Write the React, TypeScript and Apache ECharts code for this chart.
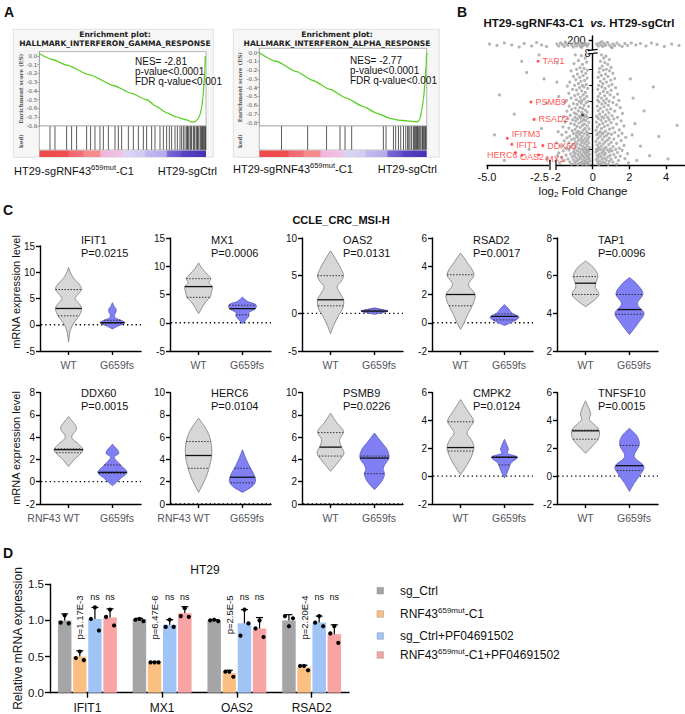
import React, { useEffect, useRef } from "react";
import * as echarts from "echarts";

const FONT = '"Liberation Sans", Arial, Helvetica, sans-serif';
const DJ = '"DejaVu Sans", Verdana, sans-serif';

// ---------------- Panel A (GSEA) ----------------
const gseaTitles = ["HALLMARK_INTERFERON_GAMMA_RESPONSE", "HALLMARK_INTERFERON_ALPHA_RESPONSE"];
const gammaStats = ["NES= -2.81", "p-value<0.0001", "FDR q-value<0.001"];
const alphaStats = ["NES= -2.77", "p-value<0.0001", "FDR q-value<0.001"];
const gammaCurve = [[0, 0.025], [8, -0.04], [16.6, -0.105], [30, -0.215], [45, -0.34], [55, -0.425], [64.5, -0.5], [70, -0.575], [76.5, -0.65], [82, -0.695], [88.4, -0.73], [91.4, -0.755], [93.5, -0.75], [95.2, -0.72], [96.4, -0.67], [97.4, -0.59], [98.2, -0.47], [98.8, -0.32], [99.3, -0.16], [99.6, 0.0]];
const alphaCurve = [[0, 0], [10, -0.098], [22.3, -0.217], [32, -0.318], [42.3, -0.42], [52, -0.52], [62.2, -0.617], [70, -0.69], [78.1, -0.75], [83, -0.77], [88.1, -0.78], [94.1, -0.79], [95.3, -0.78], [96, -0.75], [97, -0.66], [98, -0.54], [99, -0.35], [99.6, -0.15], [100, 0]];
const gammaHits = [6.4, 9.4, 16.4, 19.4, 22.4, 28.4, 30.8, 33.4, 36.4, 38.4, 41.4, 45.4, 47.4, 49.4, 53.4, 56.4, 59.4, 62.4, 64.4, 67.4, 69.4, 72.4, 74.4, 76.4, 78, 79.4, 81.4, 82.8, 84.4, 85.4, 86.4, 87.4, 88.4, 88.9, 89.4, 90.4, 90.9, 91.4, 92.4, 92.9, 93.4, 94.4, 94.9, 95.4, 96.4, 96.9, 97.4, 97.9, 98.4, 98.9, 99.4, 99.8];
const alphaHits = [13.3, 28.9, 40.2, 48.2, 51.2, 55.2, 74.1, 75.7, 80.1, 81.5, 83.1, 84.5, 86.1, 87.5, 88.6, 89.3, 90, 91, 92, 92.5, 93, 93.5, 94, 94.5, 95, 95.6, 96.4, 97.2, 97.6, 98, 98.8, 99.2, 99.6];
const esTicks = [0, -0.1, -0.2, -0.3, -0.4, -0.5, -0.6, -0.7, -0.8];
const gseaLeftLabel = "HT29-sgRNF43^{659mut}-C1";
const gseaRightLabel = "HT29-sgCtrl";

// ---------------- Panel B (volcano) ----------------
const volcanoLeftCloud = [
  [-0.95, 7.9], [-0.62, 7.85], [-0.41, 7.7], [-0.78, 7.55], [-0.33, 7.45], [-1.02, 7.35], [-0.55, 7.3], [-0.69, 7.1], [-0.47, 7.05], [-0.88, 7.0], [-0.29, 6.95],
  [-1.18, 6.9], [-0.6, 6.85], [-0.38, 6.75], [-0.83, 6.7], [-0.52, 6.6], [-1.05, 6.55], [-0.71, 6.5], [-0.3, 6.45], [-0.92, 6.35], [-0.44, 6.3], [-0.64, 6.25], [-1.25, 6.2], [-0.78, 6.1], [-0.35, 6.05], [-0.57, 6.0], [-0.99, 6.0],
  [-1.38, 5.95], [-0.48, 5.9], [-0.72, 5.85], [-0.27, 5.8], [-1.1, 5.75], [-0.88, 5.7], [-0.6, 5.65], [-0.4, 5.55], [-1.3, 5.5], [-0.8, 5.45], [-0.52, 5.4], [-0.98, 5.35], [-0.32, 5.3], [-0.67, 5.25], [-1.18, 5.2], [-0.45, 5.15], [-0.9, 5.1], [-0.58, 5.05], [-0.25, 5.0], [-1.42, 5.05], [-0.74, 5.0],
  [-1.52, 4.95], [-0.36, 4.92], [-0.63, 4.88], [-1.05, 4.85], [-0.85, 4.8], [-0.47, 4.75], [-1.28, 4.7], [-0.23, 4.68], [-0.7, 4.62], [-0.95, 4.58], [-0.55, 4.55], [-1.15, 4.5], [-0.4, 4.45], [-0.78, 4.4], [-1.4, 4.38], [-0.3, 4.33], [-0.6, 4.3], [-1.0, 4.27], [-0.88, 4.2], [-0.5, 4.18], [-1.22, 4.12], [-0.35, 4.1], [-0.72, 4.07], [-1.58, 4.05], [-0.44, 4.02], [-0.97, 4.0],
  [-0.26, 3.97], [-0.65, 3.95], [-1.35, 3.92], [-0.82, 3.9], [-0.5, 3.86], [-1.1, 3.84], [-0.38, 3.8], [-0.93, 3.77], [-0.6, 3.74], [-1.5, 3.7], [-0.22, 3.68], [-0.74, 3.65], [-1.2, 3.62], [-0.45, 3.58], [-1.0, 3.55], [-0.56, 3.5], [-0.3, 3.47], [-0.86, 3.44], [-1.62, 3.4], [-0.68, 3.37], [-1.3, 3.33], [-0.42, 3.3], [-0.2, 3.27], [-0.95, 3.24], [-0.52, 3.2], [-1.12, 3.16], [-0.78, 3.12], [-0.34, 3.1], [-1.45, 3.07], [-0.62, 3.05], [-0.88, 3.02], [-0.25, 3.0],
  [-1.05, 2.98], [-0.47, 2.96], [-0.72, 2.93], [-1.68, 2.9], [-0.3, 2.88], [-0.9, 2.86], [-1.25, 2.83], [-0.58, 2.8], [-0.2, 2.78], [-0.82, 2.75], [-1.4, 2.72], [-0.4, 2.7], [-1.0, 2.67], [-0.65, 2.65], [-0.26, 2.62], [-1.15, 2.6], [-0.52, 2.57], [-0.77, 2.54], [-1.55, 2.52], [-0.35, 2.5], [-0.95, 2.47], [-0.6, 2.44], [-1.3, 2.42], [-0.22, 2.4], [-0.44, 2.37], [-0.85, 2.34], [-1.08, 2.3], [-0.68, 2.28], [-0.3, 2.25], [-1.75, 2.22], [-0.55, 2.2], [-0.92, 2.17], [-1.2, 2.14], [-0.4, 2.12], [-0.18, 2.1], [-0.75, 2.07], [-1.45, 2.05], [-0.5, 2.03], [-1.0, 2.01], [-0.27, 2.0],
  [-0.62, 1.98], [-1.3, 1.96], [-0.36, 1.94], [-0.85, 1.92], [-1.6, 1.9], [-0.22, 1.88], [-0.5, 1.86], [-1.05, 1.84], [-0.72, 1.82], [-0.3, 1.8], [-1.85, 1.78], [-0.95, 1.76], [-0.42, 1.74], [-1.2, 1.72], [-0.6, 1.7], [-0.18, 1.68], [-0.8, 1.66], [-1.45, 1.64], [-0.35, 1.62], [-1.0, 1.6], [-0.55, 1.58], [-0.25, 1.56], [-0.7, 1.54], [-1.12, 1.52], [-1.7, 1.5], [-0.45, 1.48], [-0.9, 1.46], [-0.2, 1.44], [-0.65, 1.42], [-1.35, 1.4], [-0.32, 1.38], [-0.78, 1.36], [-1.05, 1.34], [-0.5, 1.32], [-1.55, 1.3], [-0.16, 1.28], [-0.88, 1.26], [-0.4, 1.24], [-1.25, 1.22], [-0.6, 1.2], [-0.28, 1.18], [-0.98, 1.16], [-0.72, 1.14], [-1.8, 1.12], [-0.45, 1.1], [-0.2, 1.08], [-1.15, 1.07], [-0.55, 1.06], [-0.82, 1.05], [-0.35, 1.04],
];
const volcanoRightCloud = [
  [0.48, 7.9], [0.72, 7.82], [0.6, 7.7], [0.9, 7.6], [0.42, 7.5], [0.66, 7.42], [0.82, 7.3], [0.52, 7.2], [1.0, 7.12], [0.38, 7.05], [0.74, 7.0],
  [0.58, 6.95], [0.92, 6.9], [0.35, 6.82], [1.1, 6.75], [0.7, 6.7], [0.47, 6.62], [0.83, 6.55], [0.3, 6.5], [1.2, 6.42], [0.62, 6.4], [0.98, 6.32], [0.42, 6.25], [0.75, 6.2], [0.55, 6.1], [1.05, 6.05], [0.33, 6.0],
  [0.88, 5.95], [0.5, 5.9], [1.25, 5.85], [0.68, 5.8], [0.28, 5.75], [1.0, 5.68], [0.58, 5.62], [0.8, 5.55], [0.4, 5.5], [1.35, 5.45], [0.95, 5.4], [0.65, 5.35], [0.3, 5.3], [1.15, 5.25], [0.48, 5.2], [0.76, 5.15], [0.26, 5.08], [1.42, 5.05], [0.6, 5.02], [0.9, 5.0],
  [0.35, 4.96], [1.1, 4.92], [0.7, 4.88], [0.5, 4.82], [1.3, 4.78], [0.85, 4.74], [0.25, 4.7], [0.62, 4.65], [1.5, 4.6], [0.42, 4.56], [0.98, 4.52], [0.78, 4.46], [0.3, 4.42], [1.2, 4.38], [0.55, 4.34], [0.88, 4.28], [1.62, 4.24], [0.38, 4.2], [0.7, 4.15], [1.05, 4.1], [0.22, 4.07], [0.5, 4.03], [1.35, 4.0], [0.82, 4.0],
  [0.6, 3.97], [0.3, 3.94], [1.15, 3.9], [0.9, 3.86], [0.45, 3.82], [1.55, 3.78], [0.72, 3.74], [0.2, 3.7], [1.0, 3.66], [0.55, 3.62], [1.3, 3.58], [0.36, 3.54], [0.82, 3.5], [1.7, 3.46], [0.64, 3.42], [0.25, 3.38], [1.1, 3.34], [0.48, 3.3], [0.92, 3.26], [1.45, 3.22], [0.18, 3.18], [0.7, 3.14], [0.4, 3.1], [1.2, 3.06], [0.58, 3.03], [0.85, 3.0], [1.6, 3.0], [0.3, 3.0],
  [0.5, 2.97], [1.02, 2.94], [0.22, 2.9], [0.75, 2.87], [1.4, 2.84], [0.4, 2.8], [0.62, 2.77], [1.8, 2.74], [0.9, 2.7], [0.28, 2.67], [1.15, 2.64], [0.52, 2.6], [0.8, 2.57], [1.55, 2.54], [0.18, 2.5], [0.68, 2.47], [1.0, 2.44], [0.38, 2.4], [1.3, 2.37], [0.58, 2.34], [0.88, 2.3], [0.25, 2.27], [1.7, 2.24], [0.46, 2.2], [1.1, 2.17], [0.72, 2.14], [0.32, 2.1], [1.45, 2.07], [0.6, 2.04], [0.95, 2.02], [0.2, 2.0], [1.25, 2.0],
  [0.42, 1.98], [0.78, 1.96], [1.6, 1.94], [0.28, 1.92], [1.05, 1.9], [0.58, 1.88], [0.9, 1.85], [0.18, 1.83], [1.35, 1.8], [0.5, 1.78], [0.7, 1.75], [1.9, 1.73], [0.35, 1.7], [1.15, 1.68], [0.62, 1.65], [0.95, 1.62], [0.24, 1.6], [1.5, 1.58], [0.45, 1.55], [0.82, 1.52], [1.25, 1.5], [0.3, 1.48], [0.66, 1.45], [1.75, 1.42], [0.52, 1.4], [1.0, 1.38], [0.2, 1.35], [0.74, 1.32], [1.4, 1.3], [0.38, 1.28], [0.9, 1.25], [0.56, 1.22], [1.1, 1.2], [0.27, 1.18], [1.95, 1.15], [0.68, 1.13], [0.46, 1.1], [1.3, 1.08], [0.85, 1.06], [0.33, 1.05],
];
const volcanoSparse = [
  [-1.95, 6.2], [-1.88, 3.1], [-1.97, 2.4], [-1.92, 1.6], [-1.85, 5.3], [-1.93, 7.4],
  [-3.6, 7.5], [-3.4, 6.8], [-2.7, 6.4], [-4.5, 5.4], [-2.6, 4.9], [-3.9, 4.2], [-2.8, 3.3], [-4.7, 2.9], [-3.3, 2.0], [-2.6, 1.4], [-4.3, 1.3], [-2.9, 7.9],
  [2.3, 3.6], [2.6, 2.2], [3.1, 1.6], [2.2, 5.2], [3.6, 2.8], [4.6, 3.5], [2.05, 6.4], [2.8, 4.4], [4.1, 1.4], [2.4, 1.3], [3.3, 5.9], [2.15, 2.9],
];
const volcanoTopBand = [
  [-4.9, 196], [-4.6, 194.5], [-4.3, 197], [-4.0, 195], [-3.7, 193], [-3.5, 196.5], [-3.2, 194], [-3.0, 197.5], [-2.8, 195], [-2.6, 193.5],
  [-1.95, 196], [-1.85, 194], [-1.75, 197], [-1.65, 195.5], [-1.55, 193.5], [-1.45, 196.5], [-1.35, 194.5], [-1.25, 197.5], [-1.15, 195], [-1.05, 193], [-0.95, 196], [-0.88, 194], [-0.8, 197], [-0.72, 195], [-0.65, 193.5], [-0.58, 196.5], [-0.5, 194.5], [-0.43, 197], [-0.36, 195.5], [-0.3, 193.8], [-0.24, 196], [-1.5, 198], [-1.0, 198.2], [-0.6, 192.5],
  [0.22, 196], [0.3, 194], [0.38, 197], [0.46, 195], [0.55, 193.5], [0.62, 196.5], [0.7, 194.5], [0.8, 197.5], [0.9, 195], [1.0, 193.2], [1.1, 196], [1.2, 194.3], [1.32, 197], [1.45, 195], [1.6, 193.5], [1.75, 196.5], [1.9, 194.5], [2.1, 197], [2.35, 195], [2.6, 196.5], [2.9, 194], [3.2, 197], [3.5, 195.5], [3.9, 193.5], [4.3, 196], [4.7, 194.5], [0.5, 198.3], [1.05, 192.3],
];
const volcanoGenes = ["TAP1", "PSMB9", "RSAD2", "IFITM3", "IFIT1", "DDX60", "OAS2", "HERC6", "MX1"];
const volcanoGeneFC = [-2.94, -3.23, -3.1, -4.18, -4.0, -2.75, -3.85, -3.59, -2.92];
const volcanoGeneP = [7.5, 4.96, 3.87, 2.69, 2.31, 2.23, 1.79, 1.63, 1.64];
const volcanoDark = [[-0.56, 4.14]];

// ---------------- Panel C (violins) ----------------
const violinGenes = ["IFIT1", "MX1", "OAS2", "RSAD2", "TAP1", "DDX60", "HERC6", "PSMB9", "CMPK2", "TNFSF10"];
const violinP = ["P=0.0215", "P=0.0006", "P=0.0131", "P=0.0017", "P=0.0096", "P=0.0015", "P=0.0104", "P=0.0226", "P=0.0124", "P=0.0015"];
const violinYMin = [-5, -5, -5, -2, 2, -2, 0, 0, -2, -2];
const violinYMax = [15, 15, 10, 6, 8, 8, 10, 10, 6, 6];
const violinYStep = [5, 5, 5, 2, 2, 2, 2, 2, 2, 2];
const violinXLabels = [
  ["WT", "G659fs"], ["WT", "G659fs"], ["WT", "G659fs"], ["WT", "G659fs"], ["WT", "G659fs"],
  ["RNF43 WT", "G659fs"], ["RNF43 WT", "G659fs"], ["WT", "G659fs"], ["WT", "G659fs"], ["WT", "G659fs"],
];
const wtProfiles = [
  [[-3.3, 0], [-1, 0.13], [0.5, 0.4], [1.7, 0.73], [3.1, 0.9], [4, 0.73], [5, 0.45], [6, 0.72], [6.7, 0.9], [7.5, 0.8], [8.5, 0.47], [9.5, 0.2], [10.9, 0]],
  [[1.6, 0], [2.5, 0.2], [3.7, 0.5], [4.5, 0.8], [5.3, 0.88], [6.4, 0.95], [7.1, 0.72], [7.8, 0.85], [8.6, 0.6], [9.6, 0.25], [10.6, 0]],
  [[-2.7, 0], [-1.6, 0.22], [-0.3, 0.55], [0.7, 0.85], [1.8, 0.9], [2.6, 0.68], [3.5, 0.45], [4.3, 0.75], [5.0, 0.9], [5.8, 0.75], [6.9, 0.45], [8.3, 0]],
  [[-0.47, 0], [0, 0.25], [0.6, 0.5], [1.3, 0.85], [2.0, 1.0], [2.7, 0.55], [3.4, 0.93], [4.35, 0.4], [4.94, 0]],
  [[4.35, 0], [4.7, 0.6], [5.0, 0.93], [5.4, 0.67], [5.7, 0.75], [6.0, 0.85], [6.43, 0.55], [6.78, 0]],
  [[1.37, 0], [2.0, 0.4], [2.4, 0.75], [2.87, 1.0], [3.3, 0.75], [4.0, 0.22], [4.8, 0.55], [5.85, 0]],
  [[1.04, 0], [1.88, 0.33], [2.5, 0.55], [3.22, 0.72], [4.3, 0.9], [5.6, 0.85], [6.66, 0.55], [7.7, 0]],
  [[2.93, 0], [3.97, 0.65], [4.57, 0.93], [5.13, 0.75], [5.76, 0.62], [6.5, 0.9], [7.25, 0.45], [8.15, 0]],
  [[0.1, 0], [0.81, 0.45], [1.4, 0.75], [2.07, 0.93], [2.6, 0.75], [3.07, 0.45], [3.5, 0.65], [3.95, 0.9], [4.74, 0.45], [5.5, 0]],
  [[1.64, 0], [2.24, 0.55], [2.71, 0.9], [3.31, 0.93], [3.75, 0.55], [4.05, 0.27], [4.5, 0.35], [5.4, 0]],
];
const wtQuartiles = [[1.7, 3.1, 6.7], [4.5, 6.4, 7.8], [1.0, 1.8, 5.0], [1.2, 2.0, 3.4], [5.0, 5.6, 5.95], [2.6, 2.87, 2.95], [3.2, 4.35, 5.6], [4.3, 5.1, 6.4], [1.8, 2.05, 3.9], [2.65, 3.25, 3.3]];
const mutProfiles = [
  [[-0.8, 0], [-0.3, 0.35], [0.4, 0.85], [0.9, 0.55], [1.3, 0.2], [1.9, 0.15], [2.5, 0.25], [3.0, 0.25], [3.5, 0.12], [4.2, 0]],
  [[-0.2, 0], [0.6, 0.27], [1.2, 0.45], [1.8, 0.45], [2.5, 0.9], [3.2, 0.93], [3.8, 0.33], [4.55, 0]],
  [[-0.13, 0], [0.1, 0.55], [0.3, 0.93], [0.5, 0.55], [0.73, 0]],
  [[-0.19, 0], [0.12, 0.67], [0.4, 1.0], [0.7, 0.5], [0.94, 0.33], [1.29, 0]],
  [[2.87, 0], [3.48, 0.6], [4.0, 1.0], [4.5, 0.55], [5.04, 0.93], [5.57, 0.5], [5.9, 0]],
  [[-0.36, 0], [0.33, 0.6], [0.84, 1.0], [1.52, 0.55], [2.2, 0.12], [2.57, 0.45], [3.37, 0]],
  [[1.04, 0], [1.58, 0.67], [2.03, 0.9], [2.48, 0.85], [3.22, 0.55], [3.97, 0.27], [4.87, 0]],
  [[1.28, 0], [2.03, 0.5], [2.72, 0.7], [3.1, 0.6], [3.5, 0.7], [4.12, 1.0], [4.87, 0.88], [5.6, 0.45], [6.36, 0]],
  [[-0.14, 0], [0.45, 0.27], [0.93, 0.45], [1.36, 0.9], [1.64, 0.2], [1.93, 0.27], [2.64, 0]],
  [[-1.1, 0], [-0.5, 0.33], [0, 0.67], [0.69, 1.0], [1.4, 0.33], [2.24, 0.67], [2.83, 0.55], [3.43, 0]],
];
const mutQuartiles = [[0.2, 0.4, 0.85], [1.4, 2.5, 3.1], [0.2, 0.3, 0.45], [0.2, 0.45, 0.62], [3.95, 4.2, 5.0], [0.75, 0.84, 1.5], [1.9, 2.4, 3.2], [2.72, 4.12, 4.3], [0.8, 1.35, 1.4], [0.4, 0.75, 2.2]];

// ---------------- Panel D (bars) ----------------
const dGenes = ["IFIT1", "MX1", "OAS2", "RSAD2"];
const dGroups = ["sg_Ctrl", "RNF43^{659mut}-C1", "sg_Ctrl+PF04691502", "RNF43^{659mut}-C1+PF04691502"];
const dMeans = [[1.0, 1.02, 1.0, 1.0], [0.5, 0.42, 0.27, 0.35], [1.02, 0.94, 0.96, 0.97], [1.04, 1.1, 0.89, 0.81]];
const dSD = [[0.09, 0.01, 0.01, 0.08], [0.08, 0.005, 0.04, 0.03], [0.16, 0.07, 0.19, 0.09], [0.12, 0.09, 0.15, 0.13]];
const dReps = [
  [[0.97, 1.07, 0.96], [1.01, 1.02, 0.99], [1.0, 1.01, 0.99], [1.06, 0.92, 1.03]],
  [[0.48, 0.57, 0.45], [0.42, 0.42, 0.42], [0.29, 0.29, 0.22], [0.37, 0.37, 0.31]],
  [[1.02, 1.18, 0.86], [0.91, 1.01, 0.91], [0.79, 1.15, 0.96], [0.97, 1.06, 0.92]],
  [[1.05, 1.15, 0.93], [1.06, 1.17, 1.05], [0.89, 1.0, 0.77], [0.82, 0.92, 0.69]],
];
const dAnnot = [["", "", "", ""], ["p=1.17E-3", "p=6.47E-6", "p=2.5E-5", "p=2.20E-4"], ["ns", "ns", "ns", "ns"], ["ns", "ns", "ns", "ns"]];
const dColors = ["#a5a5a8", "#fbbf82", "#a0c4f6", "#f8a3a4"];

function richSup(s: string) {
  return "{n|" + s.replace(/\^\{([^}]*)\}/g, "}{s|$1}{n|") + "}";
}

function widthAt(prof: number[][], y: number) {
  for (let k = 0; k < prof.length - 1; k++) {
    const [y0, w0] = prof[k];
    const [y1, w1] = prof[k + 1];
    if (y >= y0 && y <= y1) return w0 + ((w1 - w0) * (y - y0)) / (y1 - y0);
  }
  return 0;
}

function buildOption() {
  const grids: any[] = [];
  const xAxes: any[] = [];
  const yAxes: any[] = [];
  const series: any[] = [];
  const gr: any[] = [];
  const addGrid = (g: any, x: any, y: any) => {
    const i = grids.length;
    grids.push({ containLabel: false, outerBoundsMode: "none", ...g });
    xAxes.push({ gridIndex: i, ...x });
    yAxes.push({ gridIndex: i, ...y });
    return i;
  };
  const hid = (min: number, max: number) => ({ type: "value", min, max, show: false, splitLine: { show: false } });
  const txt = (x: number, y: number, text: string, o: any = {}, extra: any = {}) => ({
    type: "text", x, y, silent: true, z: 50, ...extra,
    style: { text, fill: "#111", fontFamily: FONT, fontSize: 11, align: "left", verticalAlign: "middle", ...o },
  });
  const blackLine = { color: "#000", width: 1.4 };

  // ---------- Panel labels ----------
  gr.push(txt(4, 12, "A", { fontWeight: "bold", fontSize: 14 }));
  gr.push(txt(457, 12, "B", { fontWeight: "bold", fontSize: 14 }));
  gr.push(txt(3, 210, "C", { fontWeight: "bold", fontSize: 14 }));
  gr.push(txt(3, 553, "D", { fontWeight: "bold", fontSize: 14 }));

  // ---------- Panel A ----------
  const supRich11 = {
    n: { fontSize: 11, fontFamily: FONT, fill: "#111", lineHeight: 15 },
    s: { fontSize: 7.5, fontFamily: FONT, fill: "#111", verticalAlign: "top" },
  };
  const gsea = [
    { curve: gammaCurve, hits: gammaHits, stats: gammaStats, title: gseaTitles[0], box: [13.3, 29.3, 200, 128], plot: [39.3, 51.6, 166.7, 74.4], ymin: -0.8, statsXY: [135, 61], titleX: 115, esX: 21, lblY: 171, lblL: 14, lblR: 217 },
    { curve: alphaCurve, hits: alphaHits, stats: alphaStats, title: gseaTitles[1], box: [233.3, 29.3, 206, 128], plot: [259.3, 48.3, 167.4, 77.7], ymin: -0.838, statsXY: [350, 60], titleX: 337, esX: 240, lblY: 169, lblL: 233, lblR: 437 },
  ];
  gsea.forEach((p) => {
    const [bx, by, bw, bh] = p.box;
    gr.push({ type: "rect", silent: true, z: -5, shape: { x: bx, y: by, width: bw, height: bh }, style: { fill: "#f6f6f6", stroke: "#dadada", lineWidth: 0.8 } });
    const [px, py, pw, ph] = p.plot;
    const ei = addGrid(
      { left: px, top: py, width: pw, height: ph, show: true, backgroundColor: "#fff", borderColor: "#9a9a9a", borderWidth: 0.7 },
      hid(0, 100),
      {
        type: "value", min: p.ymin, max: 0.05,
        axisLine: { show: true, onZero: false, lineStyle: { color: "#9a9a9a", width: 0.7 } },
        axisTick: { show: true, length: 2, customValues: esTicks, lineStyle: { color: "#777", width: 0.6 } },
        axisLabel: { show: true, customValues: esTicks, formatter: (v: number) => v.toFixed(1), fontSize: 5.5, color: "#555", margin: 2, fontFamily: DJ },
        splitLine: { show: false },
      }
    );
    series.push({ type: "line", xAxisIndex: ei, yAxisIndex: ei, data: p.curve, symbol: "none", smooth: 0.2, smoothMonotone: "x", lineStyle: { color: "#5ccf26", width: 1.3 }, silent: true, z: 3 });
    const rugTop = py + ph;
    const ri = addGrid(
      { left: px, top: rugTop, width: pw, height: 24, show: true, backgroundColor: "#fff", borderColor: "#9a9a9a", borderWidth: 0.7 },
      hid(0, 100), hid(0, 1)
    );
    series.push({ type: "scatter", xAxisIndex: ri, yAxisIndex: ri, data: p.hits.map((h) => [h, 0.5]), symbol: "rect", symbolSize: [0.9, 23.5], itemStyle: { color: "#1b1b1b" }, silent: true });
    gr.push({
      type: "rect", silent: true, z: 5, shape: { x: px, y: rugTop + 24.5, width: pw, height: 6.5 },
      style: {
        fill: new echarts.graphic.LinearGradient(0, 0, 1, 0, [
          { offset: 0, color: "#ee4a4a" }, { offset: 0.17, color: "#ef4e4f" }, { offset: 0.18, color: "#f2666f" }, { offset: 0.26, color: "#f27076" },
          { offset: 0.27, color: "#f48a8a" }, { offset: 0.36, color: "#f48a8a" }, { offset: 0.37, color: "#f1b4da" }, { offset: 0.5, color: "#f0c4e6" },
          { offset: 0.51, color: "#dad6f3" }, { offset: 0.63, color: "#d0ccf3" }, { offset: 0.64, color: "#c0baef" }, { offset: 0.76, color: "#b3aaec" },
          { offset: 0.77, color: "#7b68d6" }, { offset: 0.85, color: "#6552ca" }, { offset: 0.86, color: "#5a42c2" }, { offset: 1, color: "#4830b6" },
        ]),
      },
    });
    gr.push(txt(p.titleX, by + 5.5, "Enrichment plot:", { fontFamily: DJ, fontWeight: "bold", fontSize: 7.6, align: "center", fill: "#222" }));
    gr.push(txt(p.titleX, by + 14.5, p.title, { fontFamily: DJ, fontWeight: "bold", fontSize: 7.6, align: "center", fill: "#222" }));
    p.stats.forEach((s, k) => gr.push(txt(p.statsXY[0], p.statsXY[1] + k * 10, s, { fontSize: 10 })));
    gr.push(txt(p.esX, py + ph / 2, "Enrichment score (ES)", { fontFamily: '"DejaVu Serif", serif', fontWeight: "bold", fontSize: 5.5, align: "center", fill: "#555" }, { rotation: Math.PI / 2 }));
    gr.push(txt(p.esX, rugTop + 15, "ked)", { fontFamily: '"DejaVu Serif", serif', fontWeight: "bold", fontSize: 5.5, align: "center", fill: "#555" }, { rotation: Math.PI / 2 }));
    gr.push(txt(p.lblL, p.lblY, richSup(gseaLeftLabel), { rich: supRich11 }));
    gr.push(txt(p.lblR, p.lblY, gseaRightLabel, { align: "right" }));
  });

  // ---------- Panel B ----------
  gr.push(txt(579, 23, "{b|HT29-sgRNF43-C1  }{i|vs.}{b| HT29-sgCtrl}", {
    align: "center",
    rich: { b: { fontSize: 11.5, fontWeight: "bold", fontFamily: FONT, fill: "#111" }, i: { fontSize: 11.5, fontWeight: "bold", fontStyle: "italic", fontFamily: FONT, fill: "#111" } },
  }));
  const vAxisLbl = { fontSize: 11, color: "#111", fontFamily: FONT };
  const BL_LEFT = 487, BL_W = 62, BR_LEFT = 556, BR_W = 128.5, Y0 = 592.7;
  const bL = addGrid({ left: BL_LEFT, top: 53.3, width: BL_W, height: 112 },
    { type: "value", min: -5, max: -2.5, axisLine: { show: true, onZero: false, lineStyle: blackLine }, axisTick: { show: true, length: 4, customValues: [-5], lineStyle: blackLine }, axisLabel: { customValues: [-5, -2.5], formatter: (v: number) => v.toFixed(1), margin: 6, alignMaxLabel: "right", ...vAxisLbl }, splitLine: { show: false } },
    hid(1, 8));
  const bR = addGrid({ left: BR_LEFT, top: 53.3, width: BR_W, height: 112 },
    { type: "value", min: -2, max: 5, axisLine: { show: true, onZero: false, lineStyle: blackLine }, axisTick: { show: true, length: 4, customValues: [0, 2, 4], lineStyle: blackLine }, axisLabel: { customValues: [-2, 0, 2, 4], margin: 6, ...vAxisLbl }, splitLine: { show: false } },
    { type: "value", min: 1, max: 8, offset: -(Y0 - BR_LEFT), axisLine: { show: true, onZero: false, lineStyle: blackLine }, axisTick: { show: true, length: 3.5, customValues: [2, 3, 4, 5, 6, 7, 8], lineStyle: { color: "#000", width: 1 } }, axisLabel: { customValues: [8], margin: 2, ...vAxisLbl }, splitLine: { show: false } });
  const bTL = addGrid({ left: BL_LEFT, top: 36, width: BL_W, height: 14 }, hid(-5, -2.5), hid(190, 204));
  const bTR = addGrid({ left: BR_LEFT, top: 36, width: BR_W, height: 14 },
    { type: "value", min: -2, max: 5, axisLine: { show: false }, axisTick: { show: false }, axisLabel: { show: false }, splitLine: { show: false } },
    { type: "value", min: 190, max: 204, offset: -(Y0 - BR_LEFT), axisLine: { show: true, onZero: false, lineStyle: blackLine }, axisTick: { show: true, length: 4, customValues: [200], lineStyle: blackLine }, axisLabel: { customValues: [200], margin: 7, ...vAxisLbl }, splitLine: { show: false } });
  const allLower = [...volcanoLeftCloud, ...volcanoRightCloud, ...volcanoSparse];
  const grey = { color: "#a2a2a2" };
  const PS = 3.2;
  series.push({ type: "scatter", xAxisIndex: bL, yAxisIndex: bL, data: allLower.filter((d) => d[0] <= -2.5), symbolSize: PS, itemStyle: grey, silent: true });
  series.push({ type: "scatter", xAxisIndex: bR, yAxisIndex: bR, data: allLower.filter((d) => d[0] >= -2), symbolSize: PS, itemStyle: grey, silent: true });
  series.push({ type: "scatter", xAxisIndex: bTL, yAxisIndex: bTL, data: volcanoTopBand.filter((d) => d[0] <= -2.5), symbolSize: PS, itemStyle: grey, silent: true });
  series.push({ type: "scatter", xAxisIndex: bTR, yAxisIndex: bTR, data: volcanoTopBand.filter((d) => d[0] >= -2), symbolSize: PS, itemStyle: grey, silent: true });
  series.push({ type: "scatter", xAxisIndex: bR, yAxisIndex: bR, data: volcanoDark, symbolSize: PS, itemStyle: { color: "#333" }, silent: true, z: 4 });
  // label placement nudges (layout only) to keep crowded gene names readable
  const geneLabelLayout: Record<string, any> = {
    IFITM3: { offset: [0, -4] },
    IFIT1: { offset: [0, 1] },
    OAS2: { offset: [0, 4] },
    MX1: { offset: [3, 4] },
    HERC6: { position: "left" },
  };
  series.push({
    type: "scatter", xAxisIndex: bL, yAxisIndex: bL, symbolSize: 3, itemStyle: { color: "#ff2a2a" }, silent: true, z: 5,
    label: { show: true, position: "right", distance: 3, formatter: "{b}", color: "#ff2a2a", fontSize: 9, fontFamily: FONT },
    data: volcanoGenes.map((g, k) => ({ name: g, value: [volcanoGeneFC[k], volcanoGeneP[k]], label: geneLabelLayout[g] })),
  });
  // axis break marks
  const bk = { stroke: "#000", lineWidth: 1.2 };
  gr.push({ type: "rect", silent: true, z: 40, shape: { x: Y0 - 6, y: 50.2, width: 12, height: 2.8 }, style: { fill: "#fff" } });
  gr.push({ type: "line", silent: true, z: 41, shape: { x1: Y0 - 5, y1: 50.6, x2: Y0 + 5, y2: 49.4 }, style: bk });
  gr.push({ type: "line", silent: true, z: 41, shape: { x1: Y0 - 5, y1: 54, x2: Y0 + 5, y2: 52.8 }, style: bk });
  gr.push({ type: "rect", silent: true, z: 40, shape: { x: BL_LEFT + BL_W, y: 163, width: BR_LEFT - BL_LEFT - BL_W, height: 4 }, style: { fill: "#fff" } });
  gr.push({ type: "line", silent: true, z: 41, shape: { x1: BL_LEFT + BL_W + 1, y1: 160, x2: BL_LEFT + BL_W + 1, y2: 170 }, style: bk });
  gr.push({ type: "line", silent: true, z: 41, shape: { x1: BR_LEFT, y1: 160, x2: BR_LEFT, y2: 170 }, style: bk });
  gr.push(txt(583, 191, "{n|log}{sub|2}{n| Fold Change}", {
    align: "center",
    rich: { n: { fontSize: 11.5, fontFamily: FONT, fill: "#111", lineHeight: 15 }, sub: { fontSize: 8, fontFamily: FONT, fill: "#111", verticalAlign: "bottom" } },
  }));

  // ---------- Panel C ----------
  gr.push(txt(341, 220, "CCLE_CRC_MSI-H", { fontWeight: "bold", fontSize: 11, align: "center" }));
  const cLefts = [40, 170, 302, 432, 557];
  const row1Tops = [246, 238, 238, 238, 238];
  const HW = 0.33;
  const XMIN = 0.35, XMAX = 2.65;
  const xRich = {
    wt: { fontSize: 10.5, fontFamily: FONT, fill: "#111" },
    rwt: { fontSize: 10.5, fontFamily: FONT, fill: "#111", padding: [0, 30, 0, 0] },
    mut: { fontSize: 10.5, fontFamily: FONT, fill: "#111", padding: [0, 0, 0, 9] },
  };
  violinGenes.forEach((gene, g) => {
    const row = g < 5 ? 0 : 1;
    const col = g % 5;
    const left = cLefts[col];
    const top = row === 0 ? row1Tops[col] : 392.5;
    const bottom = row === 0 ? 351 : 504;
    const labels = violinXLabels[g];
    const gi = addGrid({ left, top, width: 101, height: bottom - top },
      {
        type: "value", min: XMIN, max: XMAX,
        axisLine: { show: true, onZero: false, lineStyle: blackLine },
        axisTick: { show: true, length: 4, customValues: [1, 2], lineStyle: blackLine },
        axisLabel: {
          customValues: [1, 2], margin: 8, rich: xRich,
          formatter: (v: number) => {
            const s = labels[Math.round(v) - 1];
            const st = Math.round(v) === 2 ? "mut" : s.length > 3 ? "rwt" : "wt";
            return "{" + st + "|" + s + "}";
          },
        },
        splitLine: { show: false },
      },
      {
        type: "value", min: violinYMin[g], max: violinYMax[g], interval: violinYStep[g],
        axisLine: { show: true, onZero: false, lineStyle: blackLine },
        axisTick: { show: true, length: 4, lineStyle: blackLine },
        axisLabel: { fontSize: 10, color: "#111", margin: 5, fontFamily: FONT },
        splitLine: { show: false },
      });
    const hasZero = violinYMin[g] <= 0 && violinYMax[g] >= 0;
    series.push({
      type: "custom", xAxisIndex: gi, yAxisIndex: gi, silent: true, z: 3,
      data: [[1, wtQuartiles[g][1]], [2, mutQuartiles[g][1]]],
      renderItem: (params: any, api: any) => {
        const k = params.dataIndex;
        const isWT = k === 0;
        const prof = isWT ? wtProfiles[g] : mutProfiles[g];
        const qs = isWT ? wtQuartiles[g] : mutQuartiles[g];
        const xc = api.value(0);
        const pts: number[][] = [];
        prof.forEach(([y, w]) => pts.push(api.coord([xc + w * HW, y])));
        prof.slice().reverse().forEach(([y, w]) => pts.push(api.coord([xc - w * HW, y])));
        const children: any[] = [];
        if (isWT && hasZero) {
          const a = api.coord([XMIN, 0]);
          const b = api.coord([XMAX, 0]);
          children.push({ type: "line", shape: { x1: a[0] + 1, y1: a[1], x2: b[0], y2: b[1] }, style: { stroke: "#000", lineWidth: 1.3, lineDash: [1.3, 3] } });
        }
        children.push({
          type: "polygon", shape: { points: pts, smooth: 0.35 },
          style: { fill: isWT ? "#d7d7d7" : "#8080f4", stroke: isWT ? "#7d7d7d" : "#5a5ac0", lineWidth: 0.8 },
        });
        qs.forEach((q, qi) => {
          const w = widthAt(prof, q) * HW;
          const a = api.coord([xc - w, q]);
          const b = api.coord([xc + w, q]);
          children.push({
            type: "line", shape: { x1: a[0], y1: a[1], x2: b[0], y2: b[1] },
            style: qi === 1 ? { stroke: "#111", lineWidth: 1.3 } : { stroke: "#222", lineWidth: 0.9, lineDash: [1.5, 1.5] },
          });
        });
        return { type: "group", children };
      },
    });
    const ly = row === 0 ? 240 : 393;
    gr.push(txt(left + 41, ly, gene, { fontSize: 11 }));
    gr.push(txt(left + 41, ly + 12.5, violinP[g], { fontSize: 11 }));
  });
  gr.push(txt(16, 292, "mRNA expression level", { fontSize: 11, align: "center" }, { rotation: Math.PI / 2 }));
  gr.push(txt(16, 448, "mRNA expression level", { fontSize: 11, align: "center" }, { rotation: Math.PI / 2 }));

  // ---------- Panel D ----------
  gr.push(txt(205, 570, "HT29", { fontSize: 12, align: "center" }));
  const BAR_W = 13.5;
  const di = addGrid({ left: 50, top: 584.3, width: 299, height: 108.4 },
    {
      type: "category", data: dGenes,
      axisLine: { show: true, lineStyle: blackLine },
      axisTick: { show: true, alignWithLabel: true, length: 5, lineStyle: blackLine },
      axisLabel: { fontSize: 12, color: "#111", margin: 9, fontFamily: FONT },
    },
    {
      type: "value", min: 0, max: 1.5, interval: 0.5,
      axisLine: { show: true, lineStyle: blackLine },
      axisTick: { show: true, length: 5, lineStyle: blackLine },
      axisLabel: { fontSize: 11.5, color: "#111", margin: 6, fontFamily: FONT, formatter: (v: number) => v.toFixed(1) },
      splitLine: { show: false },
      name: "Relative mRNA expression", nameLocation: "middle", nameGap: 22, nameRotate: 90,
      nameTextStyle: { fontSize: 12, color: "#111", fontFamily: FONT },
    });
  dGroups.forEach((name, i) => {
    series.push({ type: "bar", name, xAxisIndex: di, yAxisIndex: di, data: dMeans[i], barWidth: BAR_W, barGap: "12%", itemStyle: { color: dColors[i] }, silent: true, z: 2 });
  });
  const DOT_DX = [-4, 0, 4];
  dGroups.forEach((name, i) => {
    series.push({
      type: "custom", xAxisIndex: di, yAxisIndex: di, silent: true, z: 4,
      data: dGenes.map((_, c) => [c, dMeans[i][c], dSD[i][c], ...dReps[i][c]]),
      renderItem: (params: any, api: any) => {
        const c = api.value(0);
        const m = api.value(1);
        const sd = api.value(2);
        const base = api.coord([c, m]);
        const cx = base[0] + (i - 1.5) * BAR_W * 1.12;
        const top = api.coord([c, m + sd])[1];
        const ls = { stroke: "#000", lineWidth: 1.2 };
        const ch: any[] = [
          { type: "line", shape: { x1: cx, y1: base[1], x2: cx, y2: top }, style: ls },
          { type: "line", shape: { x1: cx - 3.5, y1: top, x2: cx + 3.5, y2: top }, style: ls },
        ];
        [3, 4, 5].forEach((d, k) => {
          const yy = api.coord([c, api.value(d)])[1];
          ch.push({ type: "circle", shape: { cx: cx + DOT_DX[k], cy: yy, r: 2.1 }, style: { fill: "#000" } });
        });
        const ann = dAnnot[i][params.dataIndex];
        if (ann && ann !== "ns") {
          const yy = api.coord([c, 1.345])[1];
          ch.push({ type: "text", x: cx, y: yy, rotation: Math.PI / 2, style: { text: ann, fontSize: 9.5, fontFamily: FONT, fill: "#111", align: "right", verticalAlign: "middle" } });
        } else if (ann === "ns") {
          const yy = api.coord([c, 1.32])[1];
          ch.push({ type: "text", x: cx, y: yy, style: { text: "ns", fontSize: 9, fontFamily: FONT, fill: "#111", align: "center", verticalAlign: "middle" } });
        }
        return { type: "group", children: ch };
      },
    });
  });
  // legend
  const legY = [590.7, 614, 636, 655];
  const supRich12 = {
    n: { fontSize: 12, fontFamily: FONT, fill: "#111", lineHeight: 16 },
    s: { fontSize: 8, fontFamily: FONT, fill: "#111", verticalAlign: "top" },
  };
  dGroups.forEach((name, i) => {
    gr.push({ type: "rect", silent: true, z: 30, shape: { x: 377, y: legY[i] - 3.3, width: 6.6, height: 6.6 }, style: { fill: dColors[i], stroke: "#888", lineWidth: 0.4 } });
    gr.push(txt(400, legY[i], richSup(name), { rich: supRich12 }));
  });

  return {
    animation: false,
    backgroundColor: "#fff",
    textStyle: { fontFamily: FONT },
    grid: grids,
    xAxis: xAxes,
    yAxis: yAxes,
    series,
    graphic: gr,
  };
}

export default function App() {
  const ref = useRef<HTMLDivElement>(null);
  useEffect(() => {
    const chart = echarts.init(ref.current as HTMLDivElement, null, { renderer: "svg" });
    chart.setOption(buildOption() as any);
    return () => chart.dispose();
  }, []);
  return <div ref={ref} style={{ position: "absolute", left: 0, top: 0, width: 685, height: 714, background: "#fff" }} />;
}
